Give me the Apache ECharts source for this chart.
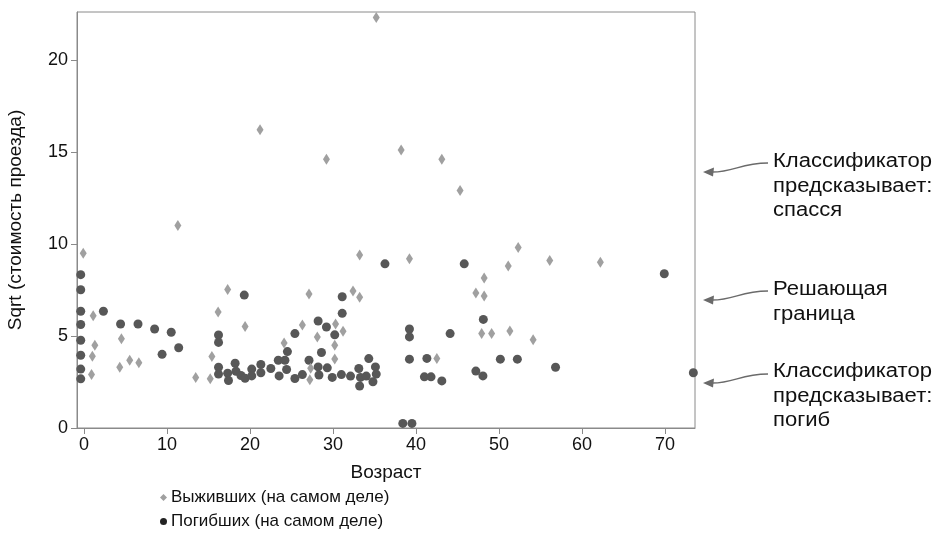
<!DOCTYPE html>
<html>
<head>
<meta charset="utf-8">
<script src="https://cdn.jsdelivr.net/npm/echarts@6/dist/echarts.min.js"></script>
<style>html,body{margin:0;padding:0;background:#fff}#c{width:941px;height:542px}</style>
</head>
<body>
<div id="c"></div>
<script>
// Data (age, sqrt(fare))
var survivedAge  = [35.2,21.2,29.2,38.2,43.1,45.3,11.3,-0.1,33.2,39.2,48.2,51.1,52.3,56.1,62.2,1.1,1.3,1.0,0.9,4.5,4.3,5.5,6.6,13.45,15.2,15.4,16.15,17.3,19.4,24.1,26.3,27.1,28.1,27.3,27.2,30.3,31.2,30.2,30.2,32.4,33.2,42.5,47.2,48.2,47.9,49.1,51.3,54.1];
var survivedFare = [22.3,16.2,14.6,15.1,14.6,12.9,11.0,9.5,9.4,9.2,8.15,8.8,9.8,9.1,9.0,6.1,4.5,3.9,2.9,4.85,3.3,3.68,3.55,2.75,2.68,3.88,6.3,7.53,5.52,4.62,5.6,7.28,4.95,3.25,2.62,5.65,5.25,4.5,3.75,7.44,7.1,3.78,7.33,7.17,5.13,5.13,5.27,4.8];
var diedAge  = [-0.4,-0.4,-0.4,-0.4,-0.4,-0.4,-0.4,-0.4,2.33,4.4,6.5,8.5,9.4,10.5,11.4,16.2,16.2,16.2,16.2,17.3,17.4,18.2,18.3,18.9,19.3,19.4,20.2,20.2,21.3,21.3,22.5,23.4,23.5,24.2,24.4,24.5,25.4,25.4,26.3,27.1,28.2,29.2,28.6,28.2,29.3,28.3,29.9,30.2,31.0,31.1,31.1,32.1,33.1,33.3,33.2,34.0,34.3,34.8,35.1,35.2,36.25,39.2,39.2,39.2,38.4,39.5,41.3,41.0,41.8,43.1,44.1,45.8,47.2,48.05,48.1,50.15,52.2,56.8,69.9,73.4];
var diedFare = [8.33,7.51,6.34,5.62,4.77,3.95,3.2,2.67,6.34,5.65,5.65,5.38,4.0,5.2,4.36,5.05,4.65,3.3,2.93,2.98,2.58,3.52,3.08,2.85,7.22,2.7,3.2,2.83,3.45,3.0,3.23,3.68,2.83,3.68,3.18,4.15,5.13,2.69,2.9,3.68,5.81,5.49,4.1,3.32,3.27,2.88,2.75,5.06,2.9,7.13,6.23,2.82,3.23,2.75,2.28,2.82,3.77,2.51,3.32,2.93,8.92,5.38,4.95,3.74,0.25,0.25,3.78,2.78,2.78,2.56,5.13,8.92,3.09,2.83,5.9,3.74,3.74,3.3,8.38,3.0];
var xTicks = [0,10,20,30,40,50,60,70];
var yTicks = [0,5,10,15,20];
var seriesNames = ['Выживших (на самом деле)','Погибших (на самом деле)'];
var xTitle = 'Возраст';
var yTitle = 'Sqrt (стоимость проезда)';
var notes = [
  {lines:['Классификатор','предсказывает:','спасся']},
  {lines:['Решающая','граница']},
  {lines:['Классификатор','предсказывает:','погиб']}
];

function zip(a,b){return a.map(function(v,i){return [v,b[i]];});}

var FONT = 'Liberation Sans, Arial, sans-serif';
var chart = echarts.init(document.getElementById('c'), null, {renderer:'canvas'});

// annotation graphics (text + arrows)
var noteTop = [162, 290, 372];
var arrowTip = [172, 300, 383];
var graphics = [];
notes.forEach(function(n, k){
  n.lines.forEach(function(t, j){
    graphics.push({type:'text', x:773, y:noteTop[k] + j*24.5, scaleX:1.13,
      style:{text:t, font:'19.5px '+FONT, fill:'#111', textVerticalAlign:'middle', verticalAlign:'middle'}});
  });
  var ty = arrowTip[k];
  graphics.push({type:'bezierCurve', shape:{x1:768, y1:ty-9, cpx1:740, cpy1:ty-9, cpx2:735, cpy2:ty, x2:712, y2:ty},
    style:{stroke:'#6a6a6a', lineWidth:1.3, fill:null}});
  graphics.push({type:'polygon', shape:{points:[[703,ty],[714,ty-4.5],[713,ty+4.5]]},
    style:{fill:'#6a6a6a'}});
});

chart.setOption({
  backgroundColor:'#fff',
  animation:false,
  textStyle:{fontFamily:FONT},
  grid:{left:77, top:12, right:246, bottom:114, show:true, borderColor:'#8a8a8a', borderWidth:1, backgroundColor:'transparent', outerBoundsMode:'none', containLabel:false},
  xAxis:{type:'value', min:-0.85, max:73.6,
    name:xTitle, nameLocation:'middle', nameGap:35, nameTextStyle:{fontSize:19, color:'#111', fontFamily:FONT},
    axisLine:{show:true, onZero:false, lineStyle:{color:'#8a8a8a'}},
    axisTick:{show:true, length:6, lineStyle:{color:'#8a8a8a'}, customValues:xTicks},
    axisLabel:{fontSize:18, color:'#111', margin:8, customValues:xTicks, fontFamily:FONT},
    splitLine:{show:false}},
  yAxis:{type:'value', min:0, max:22.6,
    name:yTitle, nameLocation:'middle', nameGap:52, nameTextStyle:{fontSize:19, color:'#111', fontFamily:FONT},
    axisLine:{show:true, onZero:false, lineStyle:{color:'#8a8a8a'}},
    axisTick:{show:true, length:6, lineStyle:{color:'#8a8a8a'}, customValues:yTicks},
    axisLabel:{fontSize:18, color:'#111', margin:9, customValues:yTicks, fontFamily:FONT},
    splitLine:{show:false}},
  legend:{orient:'vertical', left:155, top:484, itemGap:7, itemWidth:7, itemHeight:7,
    textStyle:{fontSize:17, color:'#111', fontFamily:FONT, padding:[0,0,0,-1]},
    data:[{name:seriesNames[0], icon:'diamond'},{name:seriesNames[1], icon:'circle', itemStyle:{color:'#222'}}]},
  series:[
    {name:seriesNames[0], type:'scatter', symbol:'diamond', symbolSize:[7,11],
      itemStyle:{color:'#a0a0a0', opacity:1}, data:zip(survivedAge, survivedFare), z:3},
    {name:seriesNames[1], type:'scatter', symbol:'circle', symbolSize:9,
      itemStyle:{color:'#575757', opacity:1}, data:zip(diedAge, diedFare), z:2}
  ],
  graphic:graphics
});
</script>
</body>
</html>
